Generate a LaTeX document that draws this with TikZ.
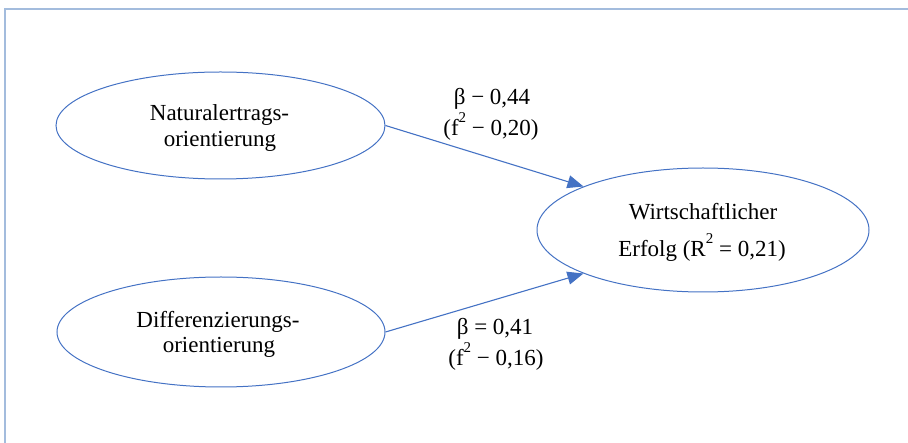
\documentclass[tikz,border=0pt]{standalone}
\usepackage{fontspec}
\setmainfont{Liberation Serif}
\usetikzlibrary{shapes.geometric,arrows.meta}
\definecolor{wordblue}{HTML}{4472C4}
\definecolor{framebl}{HTML}{A3BCDD}
% raised exponent as set in the path coefficients
\newcommand{\hochzahl}[1]{\raisebox{0.58em}{\fontsize{15}{15}\selectfont #1}}

\begin{document}
\begin{tikzpicture}[x=1pt,y=-1pt,
  konstrukt/.style={draw=wordblue, line width=1pt, ellipse, inner sep=0pt},
  txt/.style={font=\fontsize{23}{27}\selectfont, anchor=base, inner sep=0pt},
  pfeil/.style={draw=wordblue, line width=1.1pt, -{Triangle[length=16pt,width=13pt]}}]
\useasboundingbox (0,0) rectangle (908,443);

% frame
\draw[framebl, line width=2pt] (5,443) -- (5,9) -- (908,9);

% latent constructs
\node[konstrukt, minimum width=329pt, minimum height=107pt] (nat) at (220.5,125.5) {};
\node[konstrukt, minimum width=328pt, minimum height=110pt] (diff) at (221,332) {};
\node[konstrukt, minimum width=332pt, minimum height=124pt] (erfolg) at (703,230) {};

\node[txt] (natA) at (219.5,121) {Naturalertrags-};
\node[txt] (natB) at (220,147) {orientierung};
\node[txt] (diffA) at (218,328) {Differenzierungs-};
\node[txt] (diffB) at (219,353) {orientierung};
\node[txt] (erfA) at (703,220) {Wirtschaftlicher};
\node[txt] (erfB) at (702,257) {Erfolg (R\hochzahl{2} = 0,21)};

% paths
\draw[pfeil] (nat.east) -- (erfolg.160);
\draw[pfeil] (diff.east) -- (erfolg.200);

% path coefficients
\node[txt] (b1) at (492,105) {β − 0,44};
\node[txt] (f1) at (491,136) {(f\hochzahl{2} − 0,20)};
\node[txt] (b2) at (495,335) {β = 0,41};
\node[txt] (f2) at (496,366) {(f\hochzahl{2} − 0,16)};
\end{tikzpicture}
\end{document}
